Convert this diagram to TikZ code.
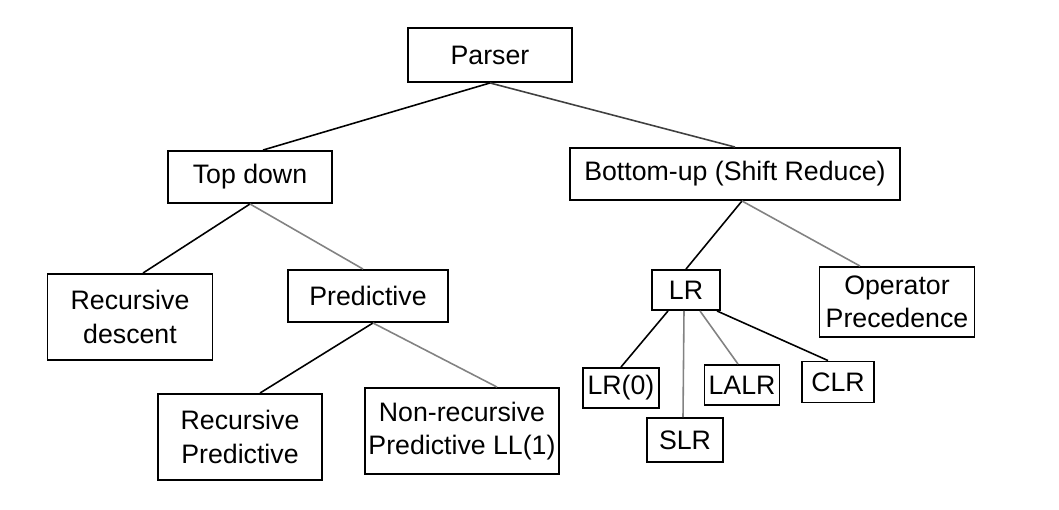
\documentclass[tikz,border=0pt]{standalone}
\usepackage{fontspec}
\setmainfont{Liberation Sans}
\usepackage{tikz}
\definecolor{myedgegray}{RGB}{130,130,130}
\newcommand{\heightone}{1.04cm}
\newcommand{\heighttwo}{1.72cm}
\newcommand{\heightleaf}{0.8cm}
\tikzset{
    common/.style={draw, rectangle, line width=1.1pt, align=center, inner sep=2pt,
        font=\fontsize{15.2}{19}\selectfont},
    single/.style={common, minimum height=\heightone},
    double/.style={common, minimum height=\heighttwo},
    leaf/.style={common, minimum height=\heightleaf},
    edge/.style={line width=0.9pt},
    edgelight/.style={edge, myedgegray}
}
\begin{document}
\begin{tikzpicture}
            \useasboundingbox (0,0) rectangle (21.18,-10.18);

            \node[single, minimum width=3.28cm, minimum height=1.08cm] (parser) at (9.8,-1.1) {Parser};
            \node[single, minimum width=3.28cm] (topdown) at (5.0,-3.54) {Top down};
            \node[single, minimum width=6.6cm] (bottomup) at (14.7,-3.48) {Bottom-up (Shift Reduce)};
            \node[double, minimum width=3.3cm] (recdesc) at (2.6,-6.34) {Recursive\\descent};
            \node[single, minimum width=3.2cm] (pred) at (7.36,-5.92) {Predictive};
            \node[double, minimum width=3.28cm] (recpred) at (4.8,-8.74) {Recursive\\Predictive};
            \node[double, minimum width=3.78cm] (nonrec) at (9.24,-8.62) {Non-recursive\\Predictive LL(1)};
            \node[leaf, minimum width=1.36cm] (lr) at (13.72,-5.8) {LR};
            \node[common, minimum width=3.1cm, minimum height=1.4cm] (opprec) at (17.94,-6.04) {Operator\\Precedence};
            \node[leaf, minimum width=1.52cm] (lrzero) at (12.42,-7.76) {LR(0)};
            \node[leaf, minimum width=1.52cm, minimum height=0.88cm] (slr) at (13.7,-8.8) {SLR};
            \node[leaf, minimum width=1.5cm] (lalr) at (14.84,-7.7) {LALR};
            \node[leaf, minimum width=1.44cm, minimum height=0.82cm] (clr) at (16.76,-7.64) {CLR};

            % upper levels
            \draw[edge] (parser.south) -- ([xshift=0.26cm]topdown.north);
            \draw[edge, black!75] (parser.south) -- (bottomup.north);
            \draw[edge] (topdown.south) -- ([xshift=0.26cm]recdesc.north);
            \draw[edgelight] (topdown.south) -- ([xshift=-0.1cm]pred.north);
            \draw[edge] ([xshift=0.1cm]pred.south) -- ([xshift=0.4cm]recpred.north);
            \draw[edgelight] ([xshift=0.1cm]pred.south) -- ([xshift=0.7cm]nonrec.north);
            \draw[edge] ([xshift=0.14cm]bottomup.south) -- (lr.north);
            \draw[edgelight] ([xshift=0.14cm]bottomup.south) -- ([xshift=-0.74cm]opprec.north);

            % LR family
            \draw[edge] ([xshift=-0.36cm]lr.south) -- (lrzero.north);
            \draw[edgelight] ([xshift=-0.04cm]lr.south) -- ([xshift=-0.04cm]slr.north);
            \draw[edgelight] ([xshift=0.28cm]lr.south) -- ([xshift=-0.08cm]lalr.north);
            \draw[edge] ([xshift=0.62cm]lr.south) -- ([xshift=-0.2cm]clr.north);
        \end{tikzpicture}
\end{document}
